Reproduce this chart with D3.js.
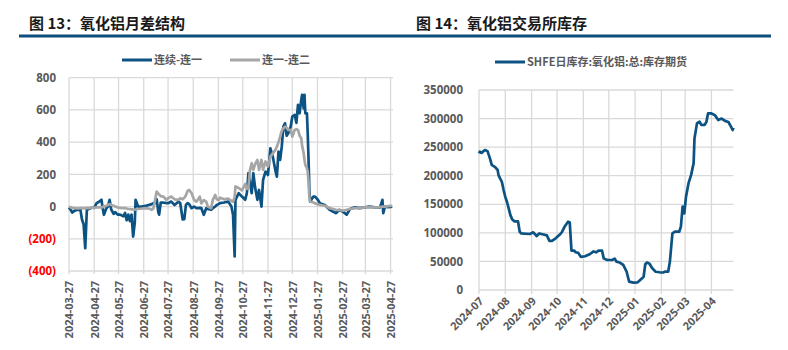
<!DOCTYPE html>
<html>
<head>
<meta charset="utf-8">
<script src="https://cdn.jsdelivr.net/npm/d3@7"></script>
<style>
  body { margin: 0; background: #fff; }
  svg { display: block; }
  text { font-family: "Open Sans", "Noto Sans CJK SC", sans-serif; }
</style>
</head>
<body>
<svg id="chart" width="788" height="350"></svg>
<script>
// ---- 图13: 氧化铝月差结构 ----
const spreadDates = [
  "2024-03-27","2024-03-29","2024-03-31","2024-04-03","2024-04-07","2024-04-10","2024-04-12","2024-04-14","2024-04-16","2024-04-18","2024-04-22","2024-04-25","2024-04-27","2024-04-30",
  "2024-05-03","2024-05-06","2024-05-07","2024-05-09","2024-05-12","2024-05-14","2024-05-16","2024-05-18","2024-05-21","2024-05-23","2024-05-26","2024-05-29",
  "2024-06-02","2024-06-04","2024-06-06","2024-06-08","2024-06-10","2024-06-12","2024-06-14","2024-06-16","2024-06-17","2024-06-20","2024-06-25","2024-06-29",
  "2024-07-03","2024-07-07","2024-07-09","2024-07-11","2024-07-13","2024-07-15","2024-07-16","2024-07-18","2024-07-21","2024-07-25","2024-07-27","2024-07-31",
  "2024-08-04","2024-08-09","2024-08-11","2024-08-14","2024-08-16","2024-08-18","2024-08-20","2024-08-22","2024-08-25","2024-08-28","2024-08-31",
  "2024-09-02","2024-09-04","2024-09-06","2024-09-09","2024-09-12","2024-09-14","2024-09-18","2024-09-20","2024-09-23","2024-09-25","2024-09-27","2024-09-29",
  "2024-10-04","2024-10-09","2024-10-13","2024-10-15","2024-10-17","2024-10-18","2024-10-22","2024-10-26","2024-10-30",
  "2024-11-01","2024-11-03","2024-11-05","2024-11-07","2024-11-09","2024-11-11","2024-11-14","2024-11-16","2024-11-19","2024-11-21","2024-11-24","2024-11-27","2024-11-30",
  "2024-12-03","2024-12-06","2024-12-08","2024-12-10","2024-12-12","2024-12-14","2024-12-16","2024-12-18","2024-12-20","2024-12-22","2024-12-25","2024-12-27","2024-12-30",
  "2025-01-01","2025-01-03","2025-01-05","2025-01-07","2025-01-08","2025-01-10","2025-01-11","2025-01-12","2025-01-14","2025-01-15","2025-01-16","2025-01-17","2025-01-18","2025-01-22","2025-01-24","2025-01-27","2025-01-30",
  "2025-02-05","2025-02-11","2025-02-15","2025-02-19","2025-02-23","2025-02-28",
  "2025-03-04","2025-03-08","2025-03-14","2025-03-20","2025-03-26",
  "2025-04-01","2025-04-08","2025-04-14","2025-04-17","2025-04-18","2025-04-20","2025-04-24","2025-04-29"
];
// 连续-连一
const spreadNearFirst = [
  -5,-20,-37,-25,-20,-18,-80,-110,-258,-20,-12,-5,-8,21,
  30,42,4,-51,-10,0,42,-18,-45,-35,-50,-50,
  -60,-40,-85,-50,-90,-50,-186,-100,42,0,0,4,
  10,15,21,21,45,-35,-50,25,25,21,21,31,
  10,31,21,-80,-78,10,21,15,-10,0,-10,
  -10,-8,-10,-51,-10,-15,-20,-10,0,10,15,21,
  25,31,0,-50,-310,42,83,62,42,
  83,207,145,83,207,124,42,103,0,166,217,196,362,
  310,228,186,341,290,372,496,517,440,455,496,558,569,
  520,631,579,662,693,610,693,579,579,450,290,103,31,62,62,45,21,
  10,-20,-31,-41,-20,-35,
  -50,-15,-5,-10,-5,
  0,-5,-5,42,-41,0,-3,0
];
// 连一-连二
const spreadFirstSecond = [
  0,-5,-8,-10,-12,-10,-10,-12,-10,-8,-10,-5,-8,-5,
  -5,-3,-5,0,5,10,15,10,5,0,-5,-8,
  -10,-10,-12,-15,-15,-18,-18,-20,-18,-15,-12,-10,
  -12,-20,-10,42,93,80,75,65,62,42,52,62,
  45,42,52,45,55,70,97,103,83,42,31,
  45,62,20,40,30,0,-10,40,72,45,40,55,
  45,50,35,30,60,125,115,100,140,
  110,124,230,269,228,260,290,228,290,228,280,248,310,
  330,350,372,400,434,470,486,496,490,476,476,434,476,
  480,476,440,424,380,331,290,259,238,217,150,62,31,25,20,15,10,
  5,-10,-15,-20,-22,-25,
  -20,-15,-10,-10,-5,
  -5,-5,-3,0,0,0,3,5
];
const spreadSeriesNames = ["连续-连一", "连一-连二"];
const spreadTickDates = ["2024-03-27","2024-04-27","2024-05-27","2024-06-27","2024-07-27","2024-08-27","2024-09-27","2024-10-27","2024-11-27","2024-12-27","2025-01-27","2025-02-27","2025-03-27","2025-04-27"];
const spreadTickValues = [800, 600, 400, 200, 0, -200, -400];

// ---- 图14: 氧化铝交易所库存 ----
const stockDates = [
  "2024-07-01","2024-07-02","2024-07-04","2024-07-08","2024-07-11","2024-07-14","2024-07-16","2024-07-20","2024-07-23","2024-07-24","2024-07-26","2024-07-28","2024-07-30",
  "2024-08-01","2024-08-03","2024-08-05","2024-08-07","2024-08-09","2024-08-12","2024-08-16","2024-08-18","2024-08-20","2024-08-24","2024-08-30",
  "2024-09-03","2024-09-07","2024-09-10","2024-09-15","2024-09-19","2024-09-22","2024-09-25","2024-09-29",
  "2024-10-05","2024-10-07","2024-10-10","2024-10-14","2024-10-16","2024-10-18","2024-10-21","2024-10-23","2024-10-26","2024-10-29",
  "2024-11-03","2024-11-09","2024-11-13","2024-11-16","2024-11-19","2024-11-23","2024-11-25","2024-11-29",
  "2024-12-05","2024-12-08","2024-12-10","2024-12-14","2024-12-18","2024-12-22","2024-12-25","2024-12-30",
  "2025-01-04","2025-01-08","2025-01-11","2025-01-13","2025-01-15","2025-01-18","2025-01-21","2025-01-25","2025-01-30",
  "2025-02-03","2025-02-05","2025-02-09","2025-02-11","2025-02-14","2025-02-17","2025-02-22","2025-02-24","2025-02-26","2025-02-28",
  "2025-03-02","2025-03-05","2025-03-08","2025-03-11","2025-03-12","2025-03-15","2025-03-18","2025-03-20","2025-03-24","2025-03-26","2025-03-28",
  "2025-04-01","2025-04-05","2025-04-09","2025-04-13","2025-04-17","2025-04-21","2025-04-24","2025-04-26","2025-04-27"
];
const stockValues = [
  239000,242000,240000,245000,243000,230000,219000,215000,210000,201000,195000,189000,175000,
  163000,154000,143000,131000,124000,120000,120000,102000,99000,98500,98000,
  101000,94500,99000,97000,95500,86000,86000,90000,
  98000,102000,111000,119500,118000,69000,69000,66000,65000,58000,
  59000,63000,67500,66000,69000,69000,55400,52500,
  52500,55000,49600,48000,43800,32000,14600,13000,
  13400,18700,23000,45000,48000,46000,38500,32000,31000,
  30600,32000,32000,49600,99000,102000,102000,111000,146000,134000,
  163000,187000,201000,222000,265000,292000,294500,289000,289000,294000,309000,
  309000,306000,297500,300000,296000,294000,286000,280000,284000
];
const stockSeriesName = "SHFE日库存:氧化铝:总:库存期货";
const stockTickDates = ["2024-07-01","2024-08-01","2024-09-01","2024-10-01","2024-11-01","2024-12-01","2025-01-01","2025-02-01","2025-03-01","2025-04-01"];
const stockTickValues = [0, 50000, 100000, 150000, 200000, 250000, 300000, 350000];

const BLUE = "#0c5282";
const GRAY = "#a6a6a6";
const GRID = "#d9d9d9";
const LABEL = "#595959";
const LINE_W = 2.7;

const parse = d3.timeParse("%Y-%m-%d");
const svg = d3.select("#chart");

// header titles and rule
svg.append("text").attr("x", 29).attr("y", 29)
  .style("font-family", '"Noto Sans CJK SC", sans-serif')
  .style("font-size", "15px").style("font-weight", 700).attr("fill", "#1a1a1a")
  .text("图 13：氧化铝月差结构");
svg.append("text").attr("x", 416).attr("y", 29)
  .style("font-family", '"Noto Sans CJK SC", sans-serif')
  .style("font-size", "15px").style("font-weight", 700).attr("fill", "#1a1a1a")
  .text("图 14：氧化铝交易所库存");
svg.append("line").attr("x1", 19).attr("x2", 771).attr("y1", 36).attr("y2", 36)
  .attr("stroke", "#0c4f7c").attr("stroke-width", 3);

function legendItem(x, y, color, label) {
  svg.append("line").attr("x1", x).attr("x2", x + 30).attr("y1", y).attr("y2", y)
    .attr("stroke", color).attr("stroke-width", 3);
  svg.append("text").attr("x", x + 32).attr("y", y + 4)
    .style("font-family", '"Noto Sans CJK SC", sans-serif')
    .style("font-size", "11px").style("font-weight", 700).attr("fill", LABEL)
    .text(label);
}

// ---------- left chart ----------
{
  const x = d3.scaleTime().domain([parse("2024-03-27"), parse("2025-04-30")]).range([69, 393]);
  const y = d3.scaleLinear().domain([-400, 800]).range([271, 77.7]);
  const g = svg.append("g");

  // grid
  g.selectAll(".hg").data(spreadTickValues).join("line")
    .attr("x1", 69).attr("x2", 393).attr("y1", d => y(d)).attr("y2", d => y(d))
    .attr("stroke", GRID).attr("stroke-width", 1.3);
  g.selectAll(".vg").data(spreadTickDates.map(parse)).join("line")
    .attr("x1", d => x(d)).attr("x2", d => x(d)).attr("y1", y(800)).attr("y2", y(-400) + 3)
    .attr("stroke", GRID).attr("stroke-width", 1.3);

  // y labels
  const yAxis = d3.axisLeft(y).tickValues(spreadTickValues).tickSize(0).tickPadding(0)
    .tickFormat(v => v < 0 ? `(${-v})` : `${v}`);
  const ya = g.append("g").attr("transform", "translate(56,0)").call(yAxis);
  ya.select(".domain").remove();
  ya.selectAll("text").style("font-size", "11.5px").style("font-weight", 700)
    .attr("fill", d => d < 0 ? "#ff0000" : LABEL);

  // x labels
  const xAxis = d3.axisBottom(x).tickValues(spreadTickDates.map(parse)).tickSize(0)
    .tickFormat(d3.timeFormat("%Y-%m-%d"));
  const xa = g.append("g").attr("transform", "translate(0,271)").call(xAxis);
  xa.select(".domain").remove();
  xa.selectAll("text").attr("transform", "rotate(-90)")
    .attr("x", -10).attr("y", 0).attr("dy", "0.35em").attr("text-anchor", "end")
    .style("font-size", "11px").style("font-weight", 700).attr("fill", LABEL);

  const pts = spreadDates.map((d, i) => ({ date: parse(d), a: spreadNearFirst[i], b: spreadFirstSecond[i] }));
  const lineA = d3.line().x(d => x(d.date)).y(d => y(d.a));
  const lineB = d3.line().x(d => x(d.date)).y(d => y(d.b));
  g.append("path").datum(pts).attr("d", lineA).attr("fill", "none")
    .attr("stroke", BLUE).attr("stroke-width", LINE_W).attr("stroke-linejoin", "round");
  g.append("path").datum(pts).attr("d", lineB).attr("fill", "none")
    .attr("stroke", GRAY).attr("stroke-width", LINE_W).attr("stroke-linejoin", "round");

  legendItem(122, 60, BLUE, spreadSeriesNames[0]);
  legendItem(230, 60, GRAY, spreadSeriesNames[1]);
}

// ---------- right chart ----------
{
  const x = d3.scaleTime().domain([parse("2024-07-01"), parse("2025-04-27")]).range([479, 733.5]);
  const y = d3.scaleLinear().domain([0, 350000]).range([290, 90]);
  const g = svg.append("g");

  g.selectAll(".hg").data(stockTickValues).join("line")
    .attr("x1", 479).attr("x2", 733.5).attr("y1", d => y(d)).attr("y2", d => y(d))
    .attr("stroke", GRID).attr("stroke-width", 1.3);
  g.selectAll(".vg").data(stockTickDates.map(parse)).join("line")
    .attr("x1", d => x(d)).attr("x2", d => x(d)).attr("y1", y(350000)).attr("y2", y(0) + 4)
    .attr("stroke", GRID).attr("stroke-width", 1.3);

  const yAxis = d3.axisLeft(y).tickValues(stockTickValues).tickSize(0).tickPadding(0)
    .tickFormat(d3.format("d"));
  const ya = g.append("g").attr("transform", "translate(463,0)").call(yAxis);
  ya.select(".domain").remove();
  ya.selectAll("text").style("font-size", "11.5px").style("font-weight", 700).attr("fill", LABEL);

  const xAxis = d3.axisBottom(x).tickValues(stockTickDates.map(parse)).tickSize(0)
    .tickFormat(d3.timeFormat("%Y-%m"));
  const xa = g.append("g").attr("transform", "translate(0,290)").call(xAxis);
  xa.select(".domain").remove();
  xa.selectAll("text").attr("transform", "translate(2,9) rotate(-45)")
    .attr("x", 0).attr("y", 0).attr("dy", "0.35em").attr("text-anchor", "end")
    .style("font-size", "11px").style("font-weight", 700).attr("fill", LABEL);

  const pts = stockDates.map((d, i) => ({ date: parse(d), v: stockValues[i] }));
  g.append("path").datum(pts)
    .attr("d", d3.line().x(d => x(d.date)).y(d => y(d.v)))
    .attr("fill", "none").attr("stroke", BLUE).attr("stroke-width", LINE_W).attr("stroke-linejoin", "round");

  legendItem(495, 62, BLUE, stockSeriesName);
}
</script>
</body>
</html>
